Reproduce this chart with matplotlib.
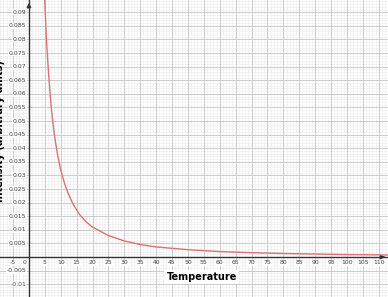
import matplotlib
matplotlib.use("Agg")
import matplotlib.pyplot as plt
import numpy as np

# Data
temperature = [4.9, 5.2, 5.5, 6, 6.5, 7, 7.5, 8, 9, 10, 11, 12, 13, 14, 16, 18,
               20, 25, 30, 35, 40, 50, 60, 70, 80, 90, 100, 110, 112.9]
intensity = [0.096, 0.088, 0.080, 0.0705, 0.0625, 0.055, 0.0497, 0.045, 0.0375,
             0.032, 0.0278, 0.0244, 0.0216, 0.0192, 0.0155, 0.0129, 0.011,
             0.0079, 0.0059, 0.0046, 0.0037, 0.0027, 0.0020, 0.0016, 0.0013,
             0.0011, 0.0009, 0.0008, 0.00075]

x_ticks = [-5, 0, 5, 10, 15, 20, 25, 30, 35, 40, 45, 50, 55, 60, 65, 70, 75,
           80, 85, 90, 95, 100, 105, 110]
y_ticks = [-0.01, -0.005, 0.005, 0.01, 0.015, 0.02, 0.025, 0.03, 0.035, 0.04,
           0.045, 0.05, 0.055, 0.06, 0.065, 0.07, 0.075, 0.08, 0.085, 0.09]
x_label = "Temperature"
y_label = "Intensity (arbitrary units)"

fig = plt.figure(figsize=(3.88, 2.97), dpi=100)
ax = fig.add_axes([0, 0, 1, 1])
ax.set_xlim(-9.1, 112.9)
ax.set_ylim(-0.0147, 0.0945)
for s in ax.spines.values():
    s.set_visible(False)
ax.set_xticks([])
ax.set_yticks([])

# grid
for xv in np.arange(-9, 113, 1):
    major = xv % 5 == 0
    ax.axvline(xv, color="#c4c4c4" if major else "#ededed",
               lw=0.6 if major else 0.45, zorder=0 if not major else 1)
for i in range(-14, 95):
    yv = i / 1000
    major = i % 5 == 0
    ax.axhline(yv, color="#c4c4c4" if major else "#ededed",
               lw=0.6 if major else 0.45, zorder=0 if not major else 1)

# axes
ax.axhline(0, color="#333333", lw=1.0, zorder=2)
ax.axvline(0, color="#333333", lw=1.0, zorder=2)
ax.annotate("", xy=(112.9, 0), xytext=(110.5, 0),
            arrowprops=dict(arrowstyle="-|>", color="#333333", lw=1, mutation_scale=6), zorder=3)
ax.annotate("", xy=(0, 0.0945), xytext=(0, 0.091),
            arrowprops=dict(arrowstyle="-|>", color="#333333", lw=1, mutation_scale=6), zorder=3)

# tick labels
for xv in x_ticks:
    xpos = -1.3 if xv == 0 else xv
    ax.text(xpos, -0.0012, f"{xv}", ha="center", va="top", fontsize=4.4,
            color="#444444", zorder=4,
            bbox=dict(facecolor="white", edgecolor="none", pad=0.3, alpha=0.8))
for yv in y_ticks:
    s = f"{yv:.3f}".rstrip("0")
    ax.text(-0.9, yv, s, ha="right", va="center", fontsize=4.4,
            color="#444444", zorder=4,
            bbox=dict(facecolor="white", edgecolor="none", pad=0.3, alpha=0.8))

# curve
ax.plot(temperature, intensity, color="#d97373", lw=1.0, zorder=5)

ax.text(54.3, -0.0074, x_label, ha="center", va="center", fontsize=7,
        fontweight="bold", color="black", zorder=6,
        bbox=dict(facecolor="white", edgecolor="none", pad=1.5))
fig.text(0.001, 0.56, y_label, rotation=90, ha="center", va="center",
         fontsize=7, fontweight="bold", color="black")

fig.savefig("out.png", dpi=100)
